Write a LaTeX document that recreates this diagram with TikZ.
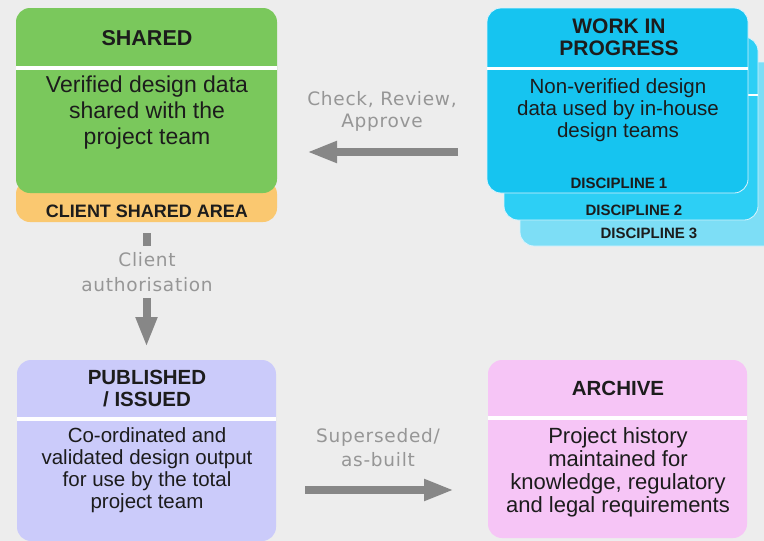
\documentclass[tikz,border=0pt]{standalone}
\usepackage{fontspec}
\setmainfont{Liberation Sans}
\newfontfamily\notefont[LetterSpace=4]{DejaVu Sans}
\usetikzlibrary{positioning,arrows.meta}

\definecolor{bgGrey}{RGB}{237,237,237}
\definecolor{shGreen}{RGB}{122,200,92}
\definecolor{shOrange}{RGB}{250,200,112}
\definecolor{wipCyan}{RGB}{22,196,240}
\definecolor{wipCyanB}{RGB}{45,207,245}
\definecolor{wipCyanC}{RGB}{125,222,246}
\definecolor{pubLilac}{RGB}{203,203,250}
\definecolor{arcPink}{RGB}{246,197,246}
\definecolor{noteGrey}{RGB}{150,150,150}
\definecolor{flowGrey}{RGB}{135,135,135}
\definecolor{inkDark}{RGB}{28,28,28}

\tikzset{
  stage/.style={rounded corners=14pt, inner sep=0pt, outer sep=0pt, anchor=north west},
  stacked/.style={stage, draw=white!85!cyan, line width=0.8pt},
  headtxt/.style={font=\bfseries\fontsize{20.5}{22}\selectfont, align=center, text=inkDark},
  bodytxt/.style={font=\fontsize{20}{22}\selectfont, align=center, text=inkDark},
  disctxt/.style={font=\bfseries\fontsize{15}{16}\selectfont, text=inkDark},
  notetxt/.style={font=\notefont\fontsize{18.5}{24}\selectfont, align=center, text=noteGrey},
  divider/.style={draw=white, line width=3.5pt},
  flow/.style={draw=flowGrey, line width=8pt, -{Triangle[length=30pt,width=20pt]}},
  stub/.style={draw=flowGrey, line width=8pt},
}

\begin{document}
\begin{tikzpicture}[x=1pt,y=-1pt]
\useasboundingbox (0,0) rectangle (764,541);
\clip (0,0) rectangle (764,541);
\fill[bgGrey] (0,0) rectangle (764,541);

% shared area
\node[stage, fill=shOrange, minimum width=261pt, minimum height=42pt] (band) at (16,180) {};
\node[stage, fill=shGreen, minimum width=261pt, minimum height=185pt] (shared) at (16,8) {};
\draw[divider] (shared.west |- 0,68) -- (shared.east |- 0,68);
\node[headtxt, font=\bfseries\fontsize{21.5}{22}\selectfont] (sharedT) at (147,38) {SHARED};
\node[bodytxt, font=\fontsize{23}{26}\selectfont] (sharedB) at (147,113)
  {Verified design data\\shared with the\\project team};
\node[headtxt, font=\bfseries\fontsize{18}{20}\selectfont] (bandT) at (147,211) {CLIENT SHARED AREA};

% work in progress, one sheet per discipline
\node[stacked, fill=wipCyanC, minimum width=270pt, minimum height=184pt] (discC) at (520,62) {};
\node[stacked, fill=wipCyanB, minimum width=254pt, minimum height=183pt] (discB) at (504,37) {};
\draw[divider, line width=2pt] (discB.west |- 0,95) -- (discB.east |- 0,95);
\node[stacked, fill=wipCyan, minimum width=261pt, minimum height=185pt] (wip) at (487,8) {};
\draw[divider] (wip.west |- 0,68.5) -- (wip.east |- 0,68.5);
\node[headtxt, font=\bfseries\fontsize{21}{22}\selectfont] (wipT) at (619,37) {WORK IN\\PROGRESS};
\node[bodytxt, font=\fontsize{20.5}{22}\selectfont] (wipB) at (618,110)
  {Non-verified design\\data used by in-house\\design teams};
\node[disctxt] (discA) at (619,183) {DISCIPLINE 1};
\node[disctxt] (discBT) at (634,210) {DISCIPLINE 2};
\node[disctxt] (discCT) at (649,233) {DISCIPLINE 3};

% published / issued
\node[stage, fill=pubLilac, minimum width=259pt, minimum height=181pt] (pub) at (17,360) {};
\draw[divider] (pub.west |- 0,419) -- (pub.east |- 0,419);
\node[headtxt] (pubT) at (147,389) {PUBLISHED\\/ ISSUED};
\node[bodytxt, font=\fontsize{20.5}{22}\selectfont] (pubB) at (147,470)
  {Co-ordinated and\\validated design output\\for use by the total\\project team};

% archive
\node[stage, fill=arcPink, minimum width=259pt, minimum height=178pt] (arc) at (488,360) {};
\draw[divider] (arc.west |- 0,418) -- (arc.east |- 0,418);
\node[headtxt] (arcT) at (618,388) {ARCHIVE};
\node[bodytxt, font=\fontsize{22}{23}\selectfont] (arcB) at (618,472)
  {Project history\\maintained for\\knowledge, regulatory\\and legal requirements};

% transitions
\coordinate (chkRow) at (0,152);
\coordinate (supRow) at (0,490);
\node[notetxt, font=\notefont\fontsize{18.5}{22}\selectfont] (chkN) at (382,111) {Check, Review,\\Approve};
\draw[flow, shorten <=29pt, shorten >=30pt] (wip.west |- chkRow) -- (shared.east |- chkRow);

\node[notetxt, font=\notefont\fontsize{18.5}{25}\selectfont] (authN) at (147,272) {Client\\authorisation};
\draw[stub] ([yshift=-11pt]band.south) -- ([yshift=-24pt]band.south);
\draw[flow] ([yshift=-76pt]band.south) -- ([yshift=13pt]pub.north);

\node[notetxt] (supN) at (378,448) {Superseded/\\as-built};
\draw[flow, shorten <=29pt, shorten >=34pt] (pub.east |- supRow) -- (arc.west |- supRow);
\end{tikzpicture}
\end{document}
